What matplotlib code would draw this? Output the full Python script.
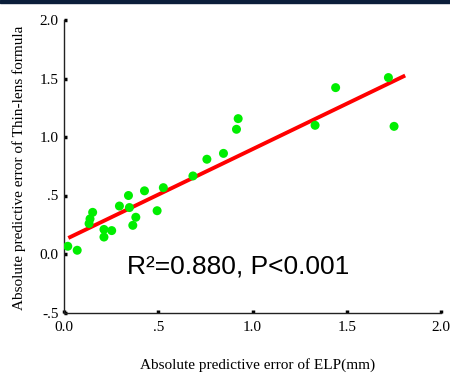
import numpy as np
import matplotlib
matplotlib.use("Agg")
import matplotlib.pyplot as plt

# Data
elp_err = [0.02, 0.07, 0.133, 0.138, 0.152, 0.212, 0.212, 0.253, 0.294, 0.342,
           0.347, 0.365, 0.381, 0.427, 0.494, 0.527, 0.684, 0.758, 0.846, 0.915,
           0.924, 1.332, 1.441, 1.721, 1.751]
thin_err = [0.066, 0.032, 0.26, 0.30, 0.356, 0.21, 0.145, 0.20, 0.41, 0.50,
            0.397, 0.245, 0.314, 0.54, 0.37, 0.567, 0.667, 0.81, 0.86, 1.066,
            1.157, 1.10, 1.422, 1.508, 1.091]
fit_x = [0.023, 1.81]
fit_slope = 0.777
fit_intercept = 0.119
x_ticks = [0.0, 0.5, 1.0, 1.5, 2.0]
x_ticklabels = ["0.0", ".5", "1.0", "1.5", "2.0"]
y_ticks = [-0.5, 0.0, 0.5, 1.0, 1.5, 2.0]
y_ticklabels = ["-.5", "0.0", ".5", "1.0", "1.5", "2.0"]
annotation = "R²=0.880, P<0.001"

fig = plt.figure(figsize=(4.5, 3.75), dpi=100)
ax = fig.add_axes([64/450, 1 - 312.5/375, (441-64)/450, (312.5-20)/375])

# top dark strip
fig.patches.append(plt.Rectangle((0, 1 - 3/375), 1, 3/375, transform=fig.transFigure,
                                 color="#0b1e3a", zorder=10))

fx = np.array(fit_x)
ax.plot(fx, fit_slope * fx + fit_intercept, color="#ff0000", lw=2.8, zorder=2,
        solid_capstyle="butt")
ax.scatter(elp_err, thin_err, s=42, color="#00ee00", edgecolors="none", zorder=3)

ax.set_xlim(0, 2.0)
ax.set_ylim(-0.5, 2.0)
ax.set_xticks(x_ticks)
ax.set_xticklabels(x_ticklabels)
ax.set_yticks(y_ticks)
ax.set_yticklabels(y_ticklabels)
for s in ["top", "right"]:
    ax.spines[s].set_visible(False)
for s in ["left", "bottom"]:
    ax.spines[s].set_linewidth(1.0)
    ax.spines[s].set_color("#222222")
ax.tick_params(axis="both", direction="in", length=2.5, width=2.5, labelsize=11)
ax.tick_params(axis="x", pad=6)
ax.tick_params(axis="y", pad=4)
for lab in ax.get_xticklabels() + ax.get_yticklabels():
    lab.set_family("Liberation Serif")

ax.text(0.335, -0.165, annotation, fontsize=19, family="Liberation Sans",
        transform=ax.transData, va="baseline", ha="left")

fig.text(258/450, 1 - 365/375, "Absolute predictive error of ELP(mm)",
         ha="center", va="center", fontsize=11, family="Liberation Serif")
fig.text(19/450, 1 - 168/375, "Absolute predictive error of Thin-lens formula",
         ha="center", va="center", rotation=90, fontsize=11, family="Liberation Serif")

fig.savefig("out.png", dpi=100)
